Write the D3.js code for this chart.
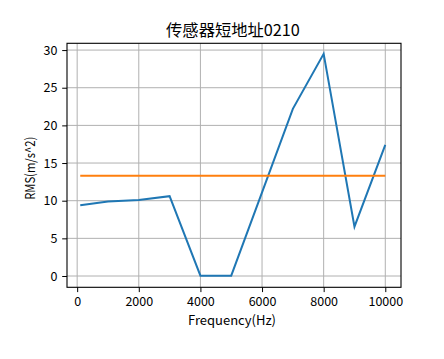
<!DOCTYPE html>
<html>
<head>
<meta charset="utf-8">
<script src="https://cdn.jsdelivr.net/npm/d3@7"></script>
<style>
  html, body { margin: 0; padding: 0; background: #fff; }
  svg { display: block; }
  text { font-family: "Noto Sans CJK SC", "Liberation Sans", sans-serif; fill: #000; }
</style>
</head>
<body>
<svg id="chart" width="444" height="359"></svg>
<script>
const title = "传感器短地址0210";
const xLabel = "Frequency(Hz)";
const yLabel = "RMS(m/s^2)";
const frequencies = [100, 1000, 2000, 3000, 4000, 5000, 6000, 7000, 8000, 9000, 10000];
const rmsValues = [9.4, 9.9, 10.1, 10.6, 0.05, 0.05, 11.1, 22.2, 29.5, 6.55, 17.4];
const thresholdX = [100, 10000];
const thresholdValues = [13.3, 13.3];
const xTicks = [0, 2000, 4000, 6000, 8000, 10000];
const yTicks = [0, 5, 10, 15, 20, 25, 30];

const svg = d3.select("#chart");
const mLeft = 67, mRight = 401, mTop = 43.3, mBottom = 287.3;

const x = d3.scaleLinear().domain([-330, 10510]).range([mLeft, mRight]);
const y = d3.scaleLinear().domain([-1.5, 30.9]).range([mBottom, mTop]);

// grid
const grid = svg.append("g");
grid.selectAll(".gx").data(xTicks).join("line")
  .attr("x1", d => x(d)).attr("x2", d => x(d))
  .attr("y1", mTop).attr("y2", mBottom)
  .attr("stroke", "#b0b0b0").attr("stroke-width", 1);
grid.selectAll(".gy").data(yTicks).join("line")
  .attr("x1", mLeft).attr("x2", mRight)
  .attr("y1", d => y(d)).attr("y2", d => y(d))
  .attr("stroke", "#b0b0b0").attr("stroke-width", 1);

// lines
const line = d3.line().x(d => x(d[0])).y(d => y(d[1]));
svg.append("path")
  .datum(frequencies.map((f, i) => [f, rmsValues[i]]))
  .attr("d", line).attr("fill", "none")
  .attr("stroke", "#1f77b4").attr("stroke-width", 2).attr("stroke-linejoin", "miter");
svg.append("path")
  .datum(thresholdX.map((f, i) => [f, thresholdValues[i]]))
  .attr("d", line).attr("fill", "none")
  .attr("stroke", "#ff7f0e").attr("stroke-width", 2);

// axes
const xAxis = svg.append("g").attr("transform", `translate(0,${mBottom})`)
  .call(d3.axisBottom(x).tickValues(xTicks).tickFormat(d3.format("d")).tickSize(4.8).tickPadding(5));
const yAxis = svg.append("g").attr("transform", `translate(${mLeft},0)`)
  .call(d3.axisLeft(y).tickValues(yTicks).tickFormat(d3.format("d")).tickSize(4.8).tickPadding(4.8));
[xAxis, yAxis].forEach(g => {
  g.select(".domain").remove();
  g.selectAll(".tick line").attr("stroke", "#000").attr("stroke-width", 1);
  g.selectAll(".tick text").attr("font-size", 12.5).attr("font-family", "\"Noto Sans CJK SC\", sans-serif");
});

// frame
svg.append("rect").attr("x", mLeft).attr("y", mTop)
  .attr("width", mRight - mLeft).attr("height", mBottom - mTop)
  .attr("fill", "none").attr("stroke", "#000").attr("stroke-width", 1.1);

// title & labels
svg.append("text").attr("x", (mLeft + mRight) / 2 - 1).attr("y", 36)
  .attr("text-anchor", "middle").attr("font-size", 16.3).text(title);
svg.append("text").attr("x", 232).attr("y", 325)
  .attr("text-anchor", "middle").attr("font-size", 13)
  .attr("textLength", 88).attr("lengthAdjust", "spacingAndGlyphs").text(xLabel);
svg.append("text").attr("transform", `translate(35,${(mTop + mBottom) / 2 + 3}) rotate(-90)`)
  .attr("text-anchor", "middle").attr("font-size", 13)
  .attr("textLength", 63).attr("lengthAdjust", "spacingAndGlyphs").text(yLabel);
</script>
</body>
</html>
